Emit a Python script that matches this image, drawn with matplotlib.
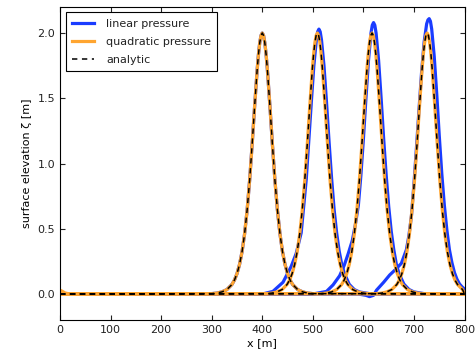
import numpy as np
import matplotlib
matplotlib.use("Agg")
import matplotlib.pyplot as plt

# solitary wave profile (offset from crest [m], elevation [m])
offsets = [-100, -90, -80, -70, -60, -55, -50, -45, -40, -35, -30, -25, -20, -15, -10, -7.5,
           -5, -2.5, 0, 2.5, 5, 7.5, 10, 15, 20, 25, 30, 35, 40, 45, 50, 55, 60, 70, 80, 90, 100]
profile = [0.003, 0.007, 0.016, 0.034, 0.073, 0.107, 0.156, 0.226, 0.324, 0.460, 0.641, 0.872,
           1.148, 1.446, 1.724, 1.838, 1.926, 1.981, 2.000, 1.981, 1.926, 1.838, 1.724, 1.446,
           1.148, 0.872, 0.641, 0.460, 0.324, 0.226, 0.156, 0.107, 0.073, 0.034, 0.016, 0.007,
           0.003]
crests = [400, 509, 617, 726]

# linear pressure snapshots (differ from analytic for the later times)
lin_x2 = [0, 400, 421, 441, 457, 467, 477, 487, 497, 502, 507, 509.5, 512, 514.5, 517, 522,
          527, 532, 537, 542, 547, 552, 557, 562, 572, 582, 592, 612, 632, 800]
lin_y2 = [0.0, 0.0, 0.02, 0.09, 0.21, 0.31, 0.47, 0.88, 1.47, 1.75, 1.95, 2.01, 2.03, 2.01,
          1.95, 1.75, 1.47, 1.17, 0.89, 0.65, 0.47, 0.33, 0.23, 0.16, 0.074, 0.034, 0.016,
          0.003, 0.0, 0.0]
lin_x3 = [0, 500, 527, 540, 553, 562, 570, 578, 584, 590, 595, 600, 605, 610, 615, 617.5, 620,
          622.5, 625, 630, 635, 640, 645, 650, 655, 660, 665, 670, 680, 690, 700, 720, 740, 800]
lin_y3 = [0.0, 0.0, 0.02, 0.07, 0.14, 0.22, 0.31, 0.41, 0.53, 0.68, 0.91, 1.19, 1.50, 1.79,
          2.00, 2.06, 2.08, 2.06, 2.00, 1.79, 1.50, 1.19, 0.91, 0.67, 0.48, 0.34, 0.23, 0.16,
          0.076, 0.035, 0.016, 0.003, 0.0, 0.0]
lin_x4 = [0, 590, 605, 612, 620, 626, 640, 652, 664, 675, 685, 690, 695, 700, 705, 710, 715,
          720, 725, 727.5, 730, 732.5, 735, 740, 745, 750, 755, 760, 765, 770, 775, 780, 785,
          790, 795, 800]
lin_y4 = [0.0, 0.0, -0.01, -0.02, -0.01, 0.03, 0.09, 0.146, 0.19, 0.235, 0.34, 0.45, 0.60,
          0.85, 1.13, 1.42, 1.70, 1.93, 2.07, 2.10, 2.11, 2.09, 2.03, 1.82, 1.53, 1.21, 0.92,
          0.68, 0.49, 0.34, 0.24, 0.164, 0.113, 0.077, 0.055, 0.038]

# small bump of the quadratic run at the left boundary
bump_x = [0, 5, 10, 20]
bump_y = [0.03, 0.02, 0.008, 0.0]

plt.rcParams['font.size'] = 8
plt.rcParams['xtick.direction'] = 'in'
plt.rcParams['ytick.direction'] = 'in'
plt.rcParams['xtick.top'] = True
plt.rcParams['ytick.right'] = True
plt.rcParams['text.color'] = '#222222'
plt.rcParams['xtick.color'] = '#222222'
plt.rcParams['ytick.color'] = '#222222'

fig = plt.figure(figsize=(4.76, 3.54), dpi=100)
ax = fig.add_axes([0.126, 0.0957, 0.850, 0.8848])

blue = '#1a3cff'
orange = '#ffa530'


def snapshot(c):
    xs = [0.0] + [c + o for o in offsets if 0 <= c + o <= 800] + [800.0]
    ys = [0.0] + [p for o, p in zip(offsets, profile) if 0 <= c + o <= 800] + [0.0]
    return np.array(xs), np.array(ys)


# linear pressure
x1, y1 = snapshot(crests[0])
ax.plot(x1, y1, color=blue, lw=2.3, label='linear pressure')
for lx, ly in [(lin_x2, lin_y2), (lin_x3, lin_y3), (lin_x4, lin_y4)]:
    ax.plot(lx, ly, color=blue, lw=2.3)

# quadratic pressure
ax.plot(bump_x, bump_y, color=orange, lw=2.3)
for i, c in enumerate(crests):
    xs, ys = snapshot(c)
    ax.plot(xs, ys, color=orange, lw=2.3, label='quadratic pressure' if i == 0 else None)

# analytic
for i, c in enumerate(crests):
    xs, ys = snapshot(c)
    ax.plot(xs, ys, 'k--', lw=1.1, dashes=(3.5, 3), label='analytic' if i == 0 else None)

ax.set_xlim(0, 800)
ax.set_ylim(-0.2, 2.2)
ax.set_xticks(np.arange(0, 801, 100))
ax.set_yticks([0.0, 0.5, 1.0, 1.5, 2.0])
ax.set_xlabel('x [m]', labelpad=2)
ax.set_ylabel('surface elevation ζ [m]', labelpad=4)

leg = ax.legend(loc='upper left', fancybox=False, edgecolor='black', framealpha=1,
                handlelength=2.0, handletextpad=1.1, labelspacing=0.75, borderpad=0.55)
leg.get_frame().set_linewidth(0.8)

fig.savefig('out.png', dpi=100)
